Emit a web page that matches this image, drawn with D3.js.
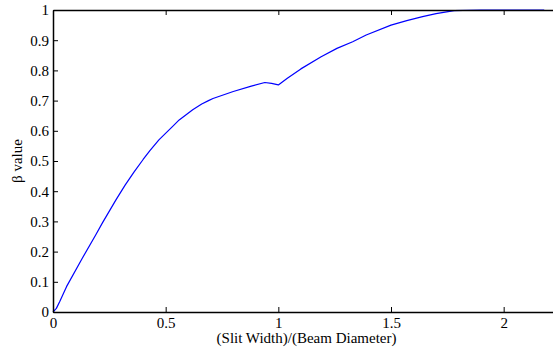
<!DOCTYPE html>
<html>
<head>
<meta charset="utf-8">
<script src="https://cdn.jsdelivr.net/npm/d3@7"></script>
<style>
  body { margin: 0; background: #fff; }
</style>
</head>
<body>
<div id="chart"></div>
<script>
// slit width / beam diameter
const ratio = [0, 0.015, 0.03, 0.06, 0.13, 0.19, 0.22, 0.28, 0.32, 0.36, 0.40, 0.43, 0.47, 0.53, 0.56, 0.62, 0.66, 0.69, 0.71,
  0.8, 0.88, 0.94, 0.97, 1.0, 1.04, 1.1, 1.19, 1.26, 1.33, 1.39, 1.5, 1.57, 1.64, 1.7, 1.78, 1.9, 2.0, 2.18];
const beta = [0, 0.012, 0.035, 0.084, 0.178, 0.256, 0.296, 0.372, 0.42, 0.464, 0.505, 0.534, 0.57, 0.614, 0.636, 0.67, 0.689, 0.70, 0.707,
  0.73, 0.748, 0.76, 0.757, 0.752, 0.774, 0.805, 0.845, 0.873, 0.895, 0.917, 0.95, 0.965, 0.978, 0.988, 0.998, 1, 1, 1];
const xTicks = [0, 0.5, 1, 1.5, 2];
const yTicks = [0, 0.1, 0.2, 0.3, 0.4, 0.5, 0.6, 0.7, 0.8, 0.9, 1];

const font = '"Liberation Serif", "Times New Roman", serif';
const width = 553, height = 348;
const margin = {top: 10, left: 53, bottom: 36, right: -7};
const innerW = width - margin.left - margin.right;
const innerH = height - margin.top - margin.bottom;

const svg = d3.select('#chart').append('svg')
    .attr('width', width)
    .attr('height', height);

const chart = svg.append('g')
    .attr('transform', `translate(${margin.left},${margin.top})`);

const x = d3.scaleLinear().domain([0, 2.25]).range([0, innerW]);
const y = d3.scaleLinear().domain([0, 1]).range([innerH, 0]);

const data = ratio.map((r, i) => ({r, b: beta[i]}));

// line
chart.append('path')
    .datum(data)
    .attr('fill', 'none')
    .attr('stroke', '#0000ff')
    .attr('stroke-width', 1.2)
    .attr('stroke-linejoin', 'round')
    .attr('d', d3.line().x(d => x(d.r)).y(d => y(d.b)));

// axes (ticks pointing inward like matlab)
const styleAxis = g => {
  g.attr('font-family', font).attr('font-size', 15);
  g.select('.domain').attr('stroke', '#000').attr('stroke-width', 1.5);
  g.selectAll('.tick line').attr('stroke', '#000').attr('stroke-width', 1);
  g.selectAll('.tick text').attr('fill', '#000').style('font-family', font);
};

chart.append('g')
    .attr('transform', `translate(0,${innerH})`)
    .call(d3.axisBottom(x).tickValues(xTicks).tickFormat(d3.format('')).tickSizeInner(-5).tickSizeOuter(0).tickPadding(5))
    .call(styleAxis);

chart.append('g')
    .call(d3.axisTop(x).tickValues(xTicks).tickFormat('').tickSizeInner(-5).tickSizeOuter(0))
    .call(styleAxis);

chart.append('g')
    .call(d3.axisLeft(y).tickValues(yTicks).tickFormat(d3.format('')).tickSizeInner(-5).tickSizeOuter(0).tickPadding(4))
    .call(styleAxis);

// labels
svg.append('text')
    .attr('x', margin.left + innerW / 2)
    .attr('y', 343)
    .attr('text-anchor', 'middle')
    .attr('font-family', font)
    .attr('font-size', 15)
    .text('(Slit Width)/(Beam Diameter)');

svg.append('text')
    .attr('transform', `translate(22,${margin.top + innerH / 2}) rotate(-90)`)
    .attr('text-anchor', 'middle')
    .attr('font-family', font)
    .attr('font-size', 15)
    .text('β value');
</script>
</body>
</html>
